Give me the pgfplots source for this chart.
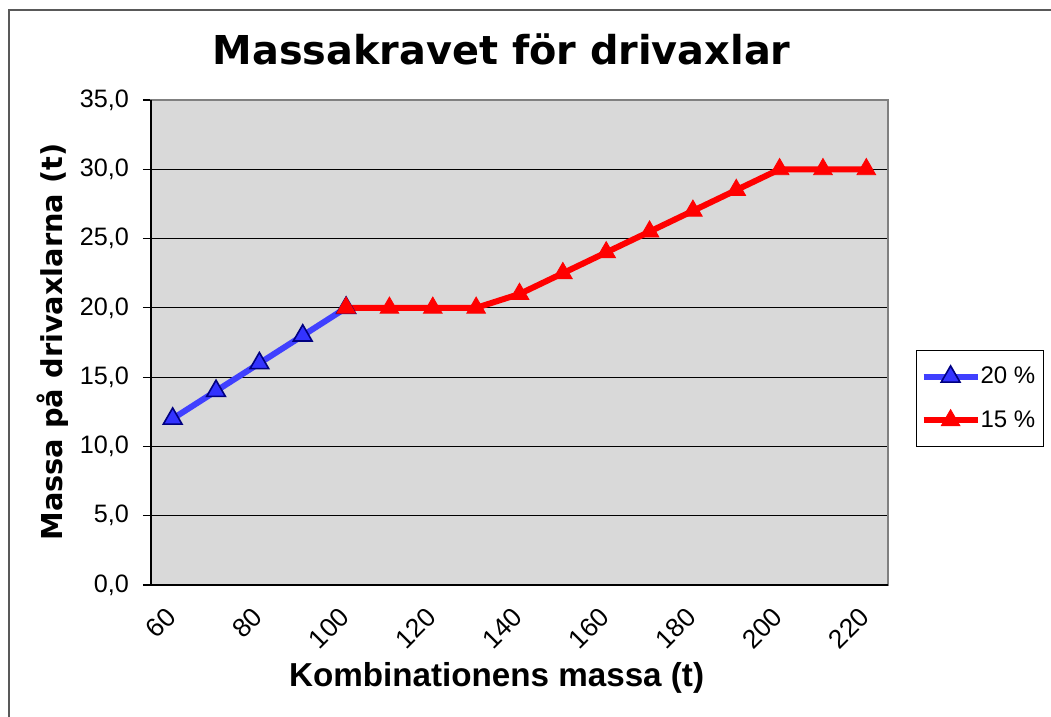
\documentclass[border=0pt]{standalone}
\usepackage{fontspec}
\setmainfont{Liberation Sans}
\newfontfamily\verdana{DejaVu Sans}
\usepackage{pgfplots}
\pgfplotsset{compat=1.18}
\definecolor{plotgray}{HTML}{D9D9D9}
\definecolor{lineblue}{HTML}{4040FF}
\definecolor{markblue}{HTML}{3333FF}
\definecolor{navy}{HTML}{000080}
\begin{document}
\begin{tikzpicture}
\path[use as bounding box] (0pt,0pt) rectangle (525.5pt,358.5pt);
\draw[gray!70!black, line width=1pt] (4.5pt,0pt) -- (4.5pt,353.5pt) -- (525.5pt,353.5pt);
\node[font=\verdana\bfseries\fontsize{19.9}{22}\selectfont] at (250.8pt,334pt) {Massakravet för drivaxlar};
\node[font=\bfseries\fontsize{16.6}{19}\selectfont] at (248.3pt,19.5pt) {Kombinationens massa (t)};
\node[font=\verdana\bfseries\fontsize{14.4}{17}\selectfont, rotate=90] at (26.5pt,187.5pt) {Massa på drivaxlarna (t)};
\begin{axis}[
  at={(75.5pt,66pt)}, anchor=south west,
  scale only axis, width=368.5pt, height=242.5pt,
  xmin=55, xmax=225, ymin=0, ymax=35,
  xtick={60,80,...,220},
  ytick={0,5,...,35},
  axis background/.style={fill=plotgray},
  axis line style={draw=gray, line width=1.2pt},
  ymajorgrids, grid style={black, line width=0.6pt},
  tick style={black, line width=0.6pt},
  xtick style={draw=none},
  ytick pos=left, tick align=outside, major tick length=4pt,
  yticklabel style={font=\fontsize{12.6}{14}\selectfont, xshift=-3.5pt},
  xticklabel style={font=\fontsize{13.2}{15}\selectfont, anchor=east, yshift=-9pt, xshift=0pt, rotate=45, inner sep=1pt},
  /pgf/number format/.cd, fixed, fixed zerofill, precision=1, use comma, assume math mode=true,
  /pgfplots/.cd,
  x tick label style={/pgf/number format/precision=0, /pgf/number format/fixed zerofill=false},
  legend style={at={(1.038,0.3845)}, anchor=west, draw=black, line width=0.6pt,
    font=\fontsize{12}{14}\selectfont, inner xsep=2pt, inner ysep=6pt, row sep=8pt,
    /tikz/every even column/.append style={column sep=0pt},
    /tikz/every odd column/.append style={column sep=-2pt}},
  legend cell align=left,
  legend image code/.code={\draw[#1, mark repeat=2, mark phase=2] plot coordinates {(0pt,0pt) (13.5pt,0pt) (27pt,0pt)};},
  clip=false,
]
\addplot[lineblue, line width=3pt, mark=triangle*, mark size=5.4pt,
  mark options={fill=markblue, draw=navy, line width=0.8pt}]
  coordinates {(60,12) (70,14) (80,16) (90,18) (100,20)};
\addlegendentry{20 \%}
\addplot[red, line width=3pt, mark=triangle*, mark size=5.4pt,
  mark options={fill=red, draw=red, line width=0.4pt}]
  coordinates {(100,20) (110,20) (120,20) (130,20) (140,21) (150,22.5) (160,24) (170,25.5) (180,27) (190,28.5) (200,30) (210,30) (220,30)};
\addlegendentry{15 \%}
\draw[black, line width=1pt] (rel axis cs:0,1) -- (rel axis cs:0,0) -- (rel axis cs:1,0);
\end{axis}
\end{tikzpicture}
\end{document}
